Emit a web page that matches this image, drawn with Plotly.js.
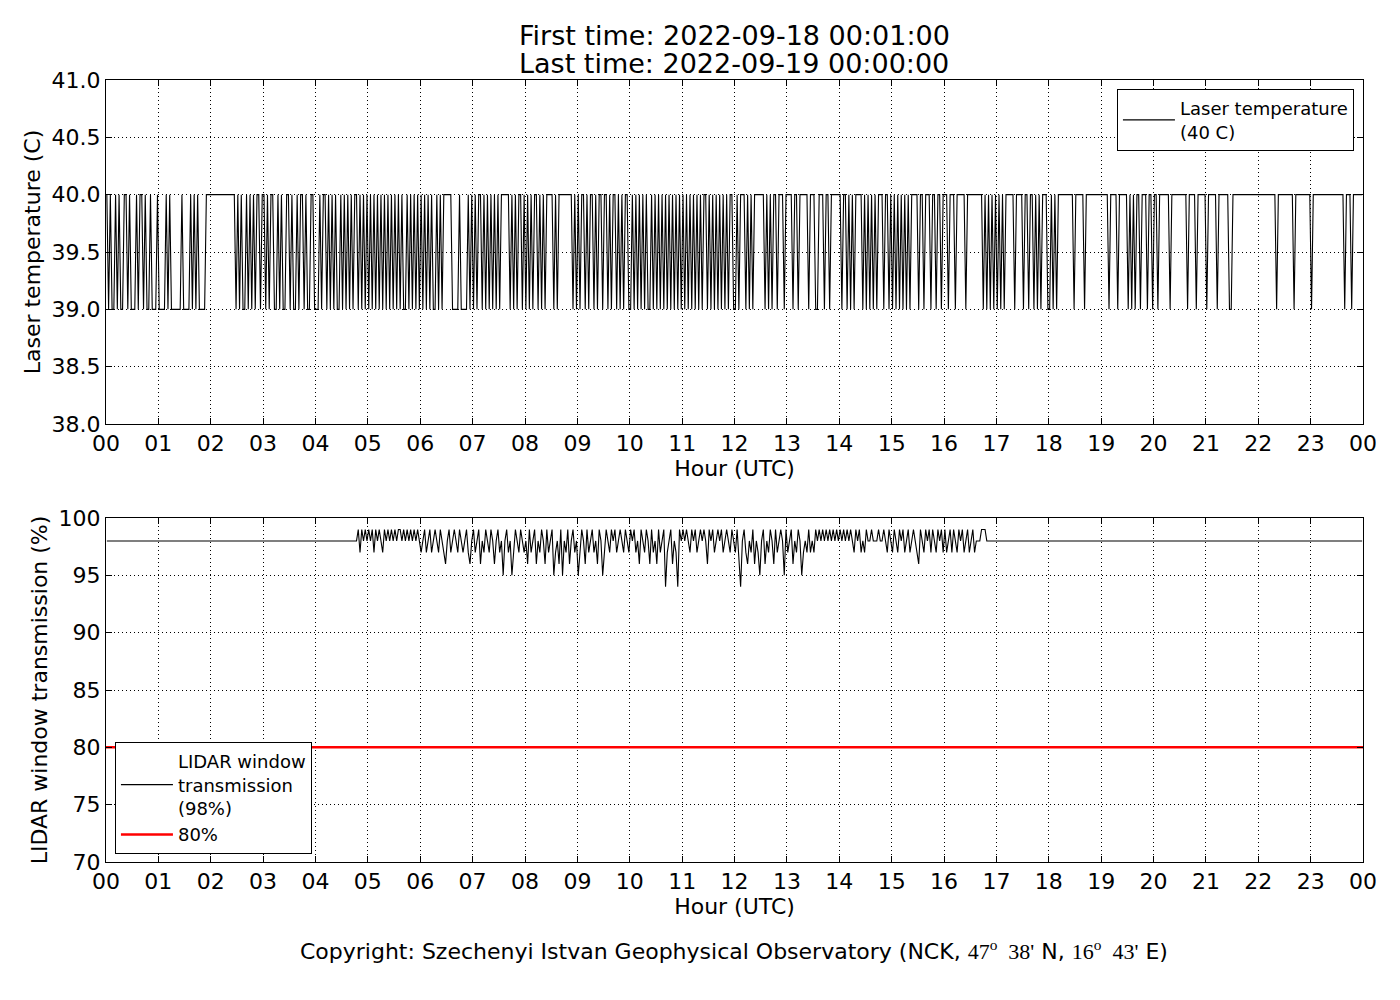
<!DOCTYPE html>
<html>
<head>
<meta charset="utf-8">
<script src="https://cdn.plot.ly/plotly-3.0.1.min.js"></script>
<style>
  html, body { margin: 0; padding: 0; background: #fff; }
  #chart { width: 1400px; height: 1000px; }
</style>
</head>
<body>
<div id="chart"></div>
<script>
// samples every 2 minutes, first one at 00:01 UTC
const sampleStartMinute = 1;
const sampleStepMinutes = 2;

const hourTicks = [0, 1, 2, 3, 4, 5, 6, 7, 8, 9, 10, 11, 12, 13, 14, 15, 16, 17, 18, 19, 20, 21, 22, 23, 24];
const hourTickLabels = ['00', '01', '02', '03', '04', '05', '06', '07', '08', '09', '10', '11',
  '12', '13', '14', '15', '16', '17', '18', '19', '20', '21', '22', '23', '00'];

const titleLines = ['First time: 2022-09-18 00:01:00', 'Last time: 2022-09-19 00:00:00'];

// laser temperature (C), one row per hour
const laserTempByHour = [
  [40,39,40,39,39,40,39,40,39,39,40,40,39,40,39,39,39,40,39,40,40,39,40,39,39,40,39,39,39,40],
  [39,39,39,39,40,39,40,39,39,39,39,39,39,40,39,39,39,39,40,39,40,39,40,39,39,39,39,40,40,40],
  [40,40,40,40,40,40,40,40,40,40,40,40,40,40,39,40,39,40,39,39,40,39,40,39,40,39,40,40,39,40],
  [40,39,40,39,40,40,39,39,40,39,40,39,39,40,40,39,40,39,39,40,39,40,40,39,40,39,39,40,40,39],
  [39,39,40,39,40,40,39,40,39,40,39,40,39,39,40,39,40,39,40,39,40,39,40,40,39,40,39,40,39,40],
  [39,40,39,40,39,40,39,40,39,40,39,40,39,40,39,40,39,40,39,40,39,39,40,39,40,39,40,39,40,39],
  [40,39,40,39,40,39,40,39,39,40,39,40,39,40,40,40,40,40,39,39,39,39,40,39,39,39,39,40,39,40],
  [39,40,39,40,40,39,40,39,40,39,40,39,40,39,40,39,40,40,40,40,40,39,40,39,40,39,40,40,39,40],
  [39,40,39,40,39,40,40,39,40,39,40,39,40,40,40,40,39,40,39,40,40,40,40,40,40,40,40,39,40,39],
  [40,39,40,40,39,40,39,40,40,39,40,39,40,40,39,40,40,39,40,39,40,40,39,40,39,40,39,40,40,39],
  [39,40,39,40,39,40,39,40,39,40,39,39,40,39,40,39,40,39,40,39,40,39,40,39,40,39,40,39,40,39],
  [40,39,40,39,40,39,40,39,40,39,40,39,40,40,39,40,39,40,39,40,39,40,39,40,39,40,39,40,40,39],
  [39,40,39,40,40,40,39,40,39,40,39,40,40,40,40,40,40,39,40,39,40,39,40,40,39,40,40,40,39,40],
  [40,40,40,39,40,40,39,40,40,40,40,40,39,40,40,40,39,39,40,40,40,39,40,40,39,40,40,40,40,40],
  [40,39,40,40,39,40,39,40,39,40,40,40,40,39,40,39,40,39,40,39,40,39,40,40,40,39,40,40,39,40],
  [39,40,39,40,39,40,39,40,39,40,39,40,40,40,40,39,40,40,39,40,40,40,39,40,40,39,40,40,39,40],
  [40,40,39,40,40,40,39,40,40,40,40,40,39,40,40,40,40,40,40,40,40,40,39,40,39,40,39,40,39,40],
  [39,40,39,40,39,40,40,40,40,40,39,40,40,40,40,39,40,40,39,40,40,39,40,39,40,39,40,40,40,39],
  [39,40,39,40,39,40,40,40,40,40,40,40,40,40,39,40,40,40,40,40,39,40,40,40,40,40,40,40,40,40],
  [40,40,40,40,39,40,40,40,40,39,40,40,40,40,40,39,40,39,40,39,40,40,39,40,40,40,39,40,40,39],
  [40,40,39,40,40,40,40,40,40,39,40,40,40,40,40,40,40,40,40,39,40,40,40,40,39,40,40,40,40,40],
  [39,40,40,40,40,40,39,40,40,40,40,40,40,39,39,40,40,40,40,40,40,40,40,40,40,40,40,40,40,40],
  [40,40,40,40,40,40,40,40,40,40,39,40,40,40,40,40,40,40,40,40,39,40,40,40,40,40,40,40,40,40],
  [39,40,40,40,40,40,40,40,40,40,40,40,40,40,40,40,40,40,40,39,40,40,40,39,40,40,40,40,40,40]
];

// LIDAR window transmission (%), one row per hour
const windowTransByHour = [
  [98,98,98,98,98,98,98,98,98,98,98,98,98,98,98,98,98,98,98,98,98,98,98,98,98,98,98,98,98,98],
  [98,98,98,98,98,98,98,98,98,98,98,98,98,98,98,98,98,98,98,98,98,98,98,98,98,98,98,98,98,98],
  [98,98,98,98,98,98,98,98,98,98,98,98,98,98,98,98,98,98,98,98,98,98,98,98,98,98,98,98,98,98],
  [98,98,98,98,98,98,98,98,98,98,98,98,98,98,98,98,98,98,98,98,98,98,98,98,98,98,98,98,98,98],
  [98,98,98,98,98,98,98,98,98,98,98,98,98,98,98,98,98,98,98,98,98,98,98,98,99,97,99,98,99,98],
  [99,98,99,97,99,98,99,98,97,99,98,99,98,99,98,99,98,99,99,98,99,98,99,98,99,98,99,98,99,98],
  [97,98,99,97,98,99,97,98,99,98,97,99,98,97,96,98,99,97,98,99,98,97,99,98,97,98,99,97,96,98],
  [99,97,98,99,96,98,97,99,98,97,99,98,96,98,99,97,98,95,98,99,97,98,95,97,99,98,97,99,98,97],
  [98,96,99,97,98,99,96,98,97,99,98,96,99,97,98,99,95,97,98,96,99,95,98,97,99,96,98,99,97,98],
  [95,97,99,98,96,99,97,98,99,97,98,96,99,98,95,97,99,98,97,99,98,99,97,98,99,98,97,99,98,97],
  [99,98,99,97,98,96,99,98,97,99,98,96,99,97,98,96,99,97,98,99,94,97,98,99,96,98,97,94,99,98],
  [99,98,99,98,97,99,98,99,97,98,99,98,99,98,96,99,98,99,97,98,99,98,99,97,98,99,98,97,99,98],
  [97,99,96,94,98,99,97,96,98,97,99,96,98,97,95,98,99,96,98,97,99,98,96,99,97,98,99,98,95,99],
  [97,98,99,96,98,97,99,98,95,97,98,97,99,97,98,97,99,98,99,98,99,98,99,98,99,98,99,98,99,98],
  [99,98,99,98,99,98,99,98,97,99,98,99,97,98,97,99,98,98,99,98,98,98,99,98,98,99,98,97,99,98],
  [97,99,98,97,99,98,99,97,98,99,97,98,99,98,97,96,99,98,97,99,98,99,97,99,98,97,99,98,99,97],
  [99,97,98,99,97,99,98,97,99,98,99,97,98,99,97,98,99,97,98,98,98,99,99,99,98,98,98,98,98,98],
  [98,98,98,98,98,98,98,98,98,98,98,98,98,98,98,98,98,98,98,98,98,98,98,98,98,98,98,98,98,98],
  [98,98,98,98,98,98,98,98,98,98,98,98,98,98,98,98,98,98,98,98,98,98,98,98,98,98,98,98,98,98],
  [98,98,98,98,98,98,98,98,98,98,98,98,98,98,98,98,98,98,98,98,98,98,98,98,98,98,98,98,98,98],
  [98,98,98,98,98,98,98,98,98,98,98,98,98,98,98,98,98,98,98,98,98,98,98,98,98,98,98,98,98,98],
  [98,98,98,98,98,98,98,98,98,98,98,98,98,98,98,98,98,98,98,98,98,98,98,98,98,98,98,98,98,98],
  [98,98,98,98,98,98,98,98,98,98,98,98,98,98,98,98,98,98,98,98,98,98,98,98,98,98,98,98,98,98],
  [98,98,98,98,98,98,98,98,98,98,98,98,98,98,98,98,98,98,98,98,98,98,98,98,98,98,98,98,98,98]
];

const thresholdPercent = 80;
const thresholdSpan = [0, 24];

const laserTemp = laserTempByHour.flat();
const windowTrans = windowTransByHour.flat();
const hours = laserTemp.map((_, i) => (sampleStartMinute + i * sampleStepMinutes) / 60);

const FONT = 'DejaVu Sans, Verdana, sans-serif';
const SERIF = "'Liberation Serif'";

function xAxisStyle(anchor) {
  return {
    anchor: anchor,
    domain: [0.0757, 0.9736],
    range: [0, 24],
    tickvals: hourTicks,
    ticktext: hourTickLabels,
    ticks: 'inside',
    ticklen: 6,
    tickcolor: '#000',
    showline: true,
    linecolor: '#000',
    linewidth: 1,
    mirror: 'ticks',
    showgrid: true,
    gridcolor: '#000',
    gridwidth: 1,
    griddash: '1px,3px',
    zeroline: false,
    tickfont: {family: FONT, size: 22, color: '#000'},
    title: {text: 'Hour (UTC)', font: {family: FONT, size: 22, color: '#000'}, standoff: 2},
  };
}

function yAxisStyle(anchor, domain, range, dtick, fmt, title) {
  return {
    anchor: anchor,
    domain: domain,
    range: range,
    dtick: dtick,
    tick0: range[0],
    tickformat: fmt,
    ticks: 'inside',
    ticklen: 6,
    tickcolor: '#000',
    showline: true,
    linecolor: '#000',
    linewidth: 1,
    mirror: 'ticks',
    showgrid: true,
    gridcolor: '#000',
    gridwidth: 1,
    griddash: '1px,3px',
    zeroline: false,
    tickfont: {family: FONT, size: 22, color: '#000'},
    title: {text: title, font: {family: FONT, size: 22, color: '#000'}, standoff: 4},
  };
}

const traces = [
  {
    x: hours, y: laserTemp, xaxis: 'x', yaxis: 'y',
    type: 'scatter', mode: 'lines',
    line: {color: '#000', width: 1.1},
    name: 'Laser temperature<br>(40 C)',
    legend: 'legend',
  },
  {
    x: hours, y: windowTrans, xaxis: 'x2', yaxis: 'y2',
    type: 'scatter', mode: 'lines',
    line: {color: '#000', width: 1.1},
    name: 'LIDAR window<br>transmission<br>(98%)',
    legend: 'legend2',
  },
  {
    x: thresholdSpan, y: [thresholdPercent, thresholdPercent], xaxis: 'x2', yaxis: 'y2',
    type: 'scatter', mode: 'lines',
    line: {color: '#ff0000', width: 2.5},
    name: thresholdPercent + '%',
    legend: 'legend2',
  },
];

const legendStyle = {
  bgcolor: '#fff',
  bordercolor: '#000',
  borderwidth: 1,
  font: {family: FONT, size: 18, color: '#000'},
  tracegroupgap: 0,
  itemwidth: 52,
};

function titleLine(text, y) {
  return {
    text: text,
    xref: 'paper', yref: 'paper', x: 0.5246, y: y, xanchor: 'center', yanchor: 'middle',
    height: 28,
    showarrow: false, font: {family: FONT, size: 27, color: '#000'},
  };
}

const layout = {
  width: 1400,
  height: 1000,
  margin: {l: 0, r: 0, t: 0, b: 0},
  paper_bgcolor: '#fff',
  plot_bgcolor: '#fff',
  font: {family: FONT, color: '#000'},
  showlegend: true,
  xaxis: xAxisStyle('y'),
  yaxis: yAxisStyle('x', [0.576, 0.92], [38, 41], 0.5, '.1f', 'Laser temperature (C)'),
  xaxis2: xAxisStyle('y2'),
  yaxis2: yAxisStyle('x2', [0.138, 0.482], [70, 100], 5, 'd', 'LIDAR window transmission (%)'),
  legend: Object.assign({x: 0.9671, xanchor: 'right', y: 0.911, yanchor: 'top'}, legendStyle),
  legend2: Object.assign({x: 0.0821, xanchor: 'left', y: 0.146, yanchor: 'bottom'}, legendStyle),
  annotations: [
    titleLine(titleLines[0], 0.965),
    titleLine(titleLines[1], 0.937),
    {
      text: 'Copyright: Szechenyi Istvan Geophysical Observatory (NCK, ' +
        '<span style="font-family:' + SERIF + '">47<sup>o</sup>  38\'</span> N, ' +
        '<span style="font-family:' + SERIF + '">16<sup>o</sup>  43\'</span> E)',
      xref: 'paper', yref: 'paper', x: 0.5246, y: 0.05, xanchor: 'center', yanchor: 'middle',
      showarrow: false, font: {family: FONT, size: 22, color: '#000'},
    },
  ],
};

Plotly.newPlot('chart', traces, layout, {displayModeBar: false, responsive: false});
</script>
</body>
</html>
